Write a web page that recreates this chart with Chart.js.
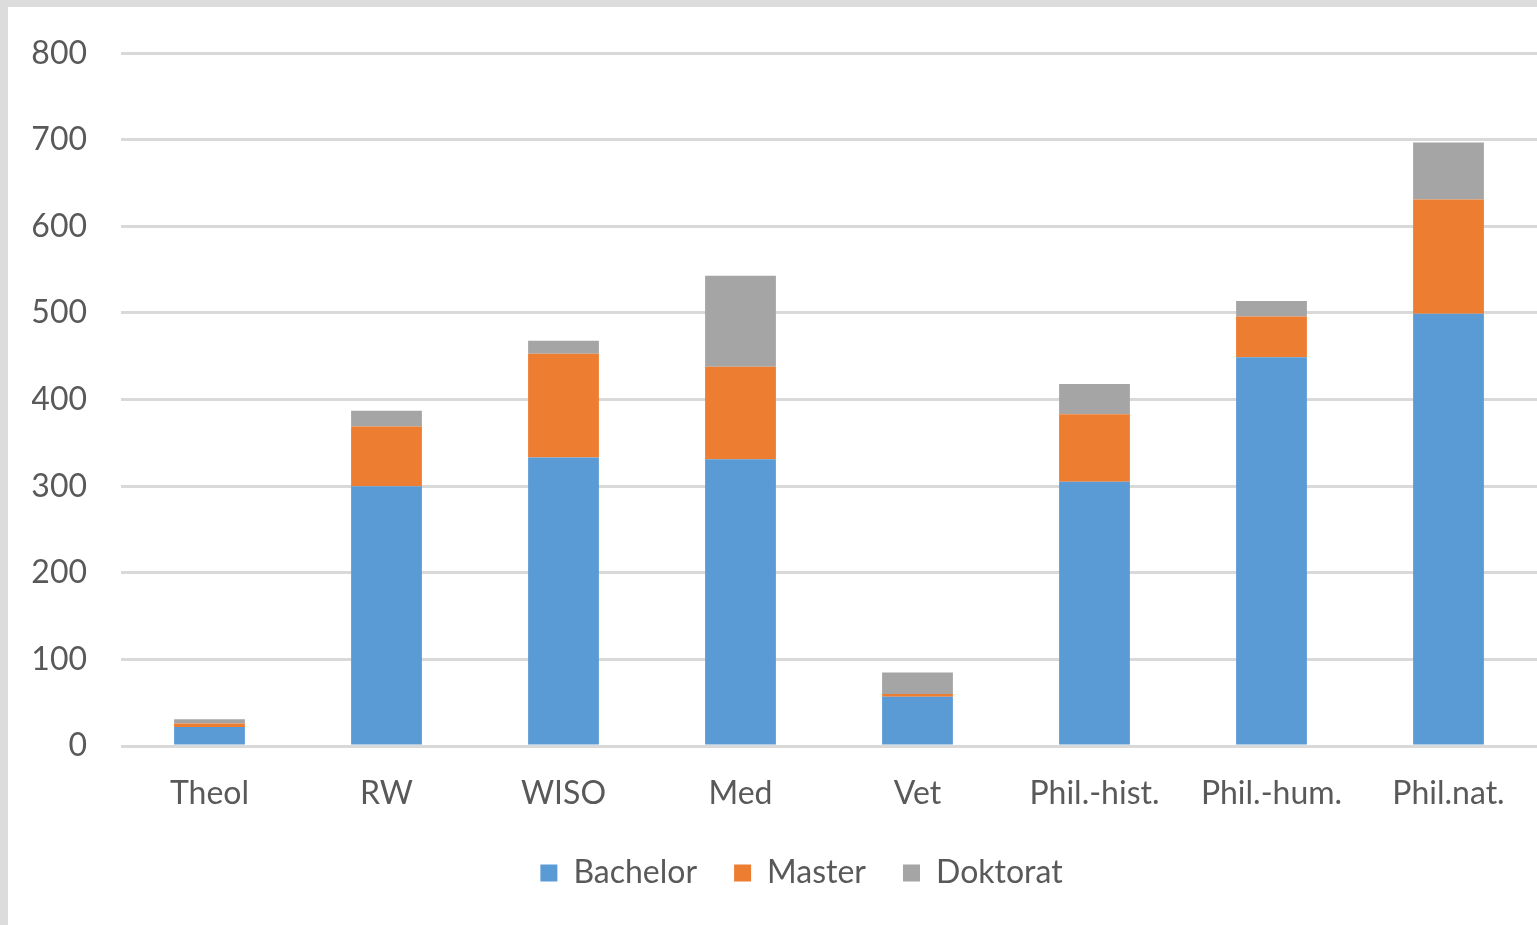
<!DOCTYPE html>
<html>
<head>
<meta charset="utf-8">
<script src="https://cdn.jsdelivr.net/npm/chart.js@4.4.0/dist/chart.umd.min.js"></script>
<style>
    html, body { margin: 0; padding: 0; background: #ffffff; }
    #frame {
        position: absolute; left: 0; top: 0;
        width: 1529px; height: 918px;
        border-left: 8px solid #dcdcdc;
        border-top: 7px solid #dcdcdc;
    }
    #wrap { position: absolute; left: 0; top: 0; width: 1537px; height: 925px; }
</style>
</head>
<body>
<div id="frame"></div>
<div id="wrap"><canvas id="barChart"></canvas></div>
<script>
// Faculties (x-axis categories)
const faculties = ['Theol', 'RW', 'WISO', 'Med', 'Vet', 'Phil.-hist.', 'Phil.-hum.', 'Phil.nat.'];

// stacked series values
const bachelor = [22, 300, 333, 331, 57, 305, 449, 499];
const master   = [4, 69, 120, 107, 3, 78, 47, 132];
const doktorat = [5, 18, 15, 105, 25, 35, 18, 66];

// y-axis ticks
const yMin = 0;
const yMax = 800;
const yStep = 100;

const textColor = '#595959';
const gridColor = '#d9d9d9';

Chart.defaults.font.family = 'Lato, "Open Sans", sans-serif';

// nudge the legend a little to the right, as in the original
const legendShift = {
    id: 'legendShift',
    afterLayout(chart) {
        chart.legend.left += 17;
        chart.legend.right += 17;
    }
};

const ctx = document.getElementById('barChart');

const myChart = new Chart(ctx, {
    type: 'bar',
    data: {
        labels: faculties,
        datasets: [
            { label: 'Bachelor', data: bachelor, backgroundColor: '#5b9bd5' },
            { label: 'Master',   data: master,   backgroundColor: '#ed7d31' },
            { label: 'Doktorat', data: doktorat, backgroundColor: '#a5a5a5' }
        ]
    },
    options: {
        responsive: true,
        maintainAspectRatio: false,
        animation: false,
        datasets: {
            bar: { barPercentage: 1, categoryPercentage: 0.4 }
        },
        layout: {
            padding: { top: 21, right: 0, left: 32, bottom: 26 }
        },
        scales: {
            x: {
                stacked: true,
                grid: { display: false },
                border: { display: false },
                ticks: {
                    color: textColor,
                    font: { size: 32 },
                    padding: 20,
                    maxRotation: 0
                },
                afterFit: function(scale) {
                    scale.height = 74;
                }
            },
            y: {
                stacked: true,
                min: yMin,
                max: yMax,
                border: { display: false },
                grid: {
                    color: gridColor,
                    lineWidth: 3,
                    drawTicks: false
                },
                ticks: {
                    stepSize: yStep,
                    color: textColor,
                    font: { size: 32 },
                    padding: 34
                },
                afterFit: function(scale) {
                    scale.width = 89;
                }
            }
        },
        plugins: {
            tooltip: { enabled: false },
            legend: {
                position: 'bottom',
                labels: {
                    color: textColor,
                    font: { size: 32 },
                    boxWidth: 17,
                    boxHeight: 17,
                    padding: 37
                }
            }
        }
    },
    plugins: [legendShift]
});
</script>
</body>
</html>
